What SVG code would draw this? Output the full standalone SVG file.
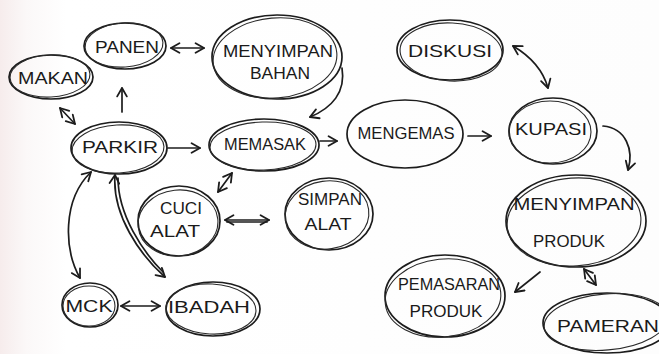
<svg xmlns="http://www.w3.org/2000/svg" width="659" height="354" viewBox="0 0 659 354">
  <style>
    .ring { fill: none; stroke: #1c1c1c; stroke-width: 1.7; }
    .ring2 { fill: none; stroke: #2a2a2a; stroke-width: 1.1; }
    .lbl { font-family: "Liberation Sans", "DejaVu Sans", sans-serif; font-size: 17px; fill: #1a1a1a; text-anchor: middle; }
    .link { fill: none; stroke: #1c1c1c; stroke-width: 1.7; stroke-linecap: round; }
    .one { marker-end: url(#tip); }
    .two { marker-start: url(#tip); marker-end: url(#tip); }
  </style>
  <defs>
    <marker id="tip" viewBox="0 0 10 10" refX="8" refY="5" markerWidth="12" markerHeight="12" markerUnits="userSpaceOnUse" orient="auto-start-reverse">
      <path d="M1,1 L8,5 L1,9" fill="none" stroke="#1c1c1c" stroke-width="1.5" stroke-linecap="round" stroke-linejoin="round"/>
    </marker>
    <linearGradient id="paper" x1="0" y1="0" x2="1" y2="0">
      <stop offset="0" stop-color="#f6ecec"/>
      <stop offset="0.04" stop-color="#fbf8f8"/>
      <stop offset="0.1" stop-color="#ffffff"/>
      <stop offset="1" stop-color="#fdfdfd"/>
    </linearGradient>
  </defs>

  <rect width="659" height="354" fill="url(#paper)"/>

  <!-- connectors -->
  <g id="connectors">
    <path class="link two" d="M171,48 L204,48"/>
    <path class="link one" d="M122,112 L122,88"/>
    <path class="link two" d="M60,108 L75,124"/>
    <path class="link one" d="M168,148 L200,148"/>
    <path class="link one" d="M342,68 C346,92 332,108 310,117"/>
    <path class="link one" d="M320,141 L337,141"/>
    <path class="link one" d="M468,136 L491,136"/>
    <path class="link two" d="M513,46 C530,56 543,70 548,88"/>
    <path class="link one" d="M603,126 C626,128 634,150 628,170"/>
    <path class="link one" d="M540,272 L515,292"/>
    <path class="link two" d="M584,269 L596,285"/>
    <path class="link two" d="M232,173 L218,192"/>
    <path class="link two" d="M225,220 L269,220"/>
    <path class="link" d="M227,222 L267,222"/>
    <path class="link two" d="M91,172 C62,200 64,250 80,278"/>
    <path class="link two" d="M115,175 C112,215 140,255 165,277"/>
    <path class="link" d="M118,178 C118,215 143,252 163,272"/>
    <path class="link two" d="M121,306 L160,306"/>
  </g>

  <!-- nodes -->
  <g id="panen">
    <ellipse class="ring" cx="125" cy="46" rx="41" ry="23"/>
    <ellipse class="ring2" cx="124" cy="45" rx="39" ry="22" transform="rotate(-4 124 45)"/>
    <text class="lbl" x="127" y="53" textLength="64" lengthAdjust="spacingAndGlyphs">PANEN</text>
  </g>
  <g id="menyimpan-bahan">
    <ellipse class="ring" cx="277" cy="57" rx="65" ry="42"/>
    <ellipse class="ring2" cx="275" cy="58" rx="62" ry="40" transform="rotate(-5 275 58)"/>
    <text class="lbl" x="278" y="57" textLength="110" lengthAdjust="spacingAndGlyphs">MENYIMPAN</text>
    <text class="lbl" x="280" y="79" textLength="60" lengthAdjust="spacingAndGlyphs">BAHAN</text>
  </g>
  <g id="makan">
    <ellipse class="ring" cx="51" cy="77" rx="42" ry="22"/>
    <ellipse class="ring2" cx="50" cy="76" rx="40" ry="21" transform="rotate(-3 50 76)"/>
    <text class="lbl" x="53" y="84" textLength="70" lengthAdjust="spacingAndGlyphs">MAKAN</text>
  </g>
  <g id="parkir">
    <ellipse class="ring" cx="119" cy="148" rx="48" ry="26"/>
    <ellipse class="ring2" cx="118" cy="149" rx="46" ry="24" transform="rotate(-3 118 149)"/>
    <text class="lbl" x="120" y="153" textLength="76" lengthAdjust="spacingAndGlyphs">PARKIR</text>
  </g>
  <g id="memasak">
    <ellipse class="ring" cx="264" cy="145" rx="55" ry="26"/>
    <ellipse class="ring2" cx="263" cy="146" rx="53" ry="24" transform="rotate(-2 263 146)"/>
    <text class="lbl" x="265" y="150" textLength="82" lengthAdjust="spacingAndGlyphs">MEMASAK</text>
  </g>
  <g id="mengemas">
    <ellipse class="ring" cx="405" cy="134" rx="58" ry="34"/>
    <text class="lbl" x="406" y="139" textLength="97" lengthAdjust="spacingAndGlyphs">MENGEMAS</text>
  </g>
  <g id="kupasi">
    <ellipse class="ring" cx="553" cy="131" rx="44" ry="33"/>
    <ellipse class="ring2" cx="550" cy="132" rx="41" ry="31"/>
    <text class="lbl" x="551" y="135" textLength="72" lengthAdjust="spacingAndGlyphs">KUPASI</text>
  </g>
  <g id="diskusi">
    <ellipse class="ring" cx="450" cy="50" rx="53" ry="30"/>
    <ellipse class="ring2" cx="451" cy="52" rx="51" ry="29" transform="rotate(3 451 52)"/>
    <text class="lbl" x="450" y="57" textLength="84" lengthAdjust="spacingAndGlyphs">DISKUSI</text>
  </g>
  <g id="cuci-alat">
    <ellipse class="ring" cx="179" cy="221" rx="41" ry="35"/>
    <ellipse class="ring2" cx="178" cy="223" rx="40" ry="33" transform="rotate(-6 178 223)"/>
    <text class="lbl" x="181" y="214" textLength="42" lengthAdjust="spacingAndGlyphs">CUCI</text>
    <text class="lbl" x="175" y="237" textLength="50" lengthAdjust="spacingAndGlyphs">ALAT</text>
  </g>
  <g id="simpan-alat">
    <ellipse class="ring" cx="329" cy="214" rx="44" ry="36"/>
    <ellipse class="ring2" cx="327" cy="215" rx="42" ry="34" transform="rotate(-8 327 215)"/>
    <text class="lbl" x="330" y="205" textLength="64" lengthAdjust="spacingAndGlyphs">SIMPAN</text>
    <text class="lbl" x="328" y="230" textLength="47" lengthAdjust="spacingAndGlyphs">ALAT</text>
  </g>
  <g id="mck">
    <ellipse class="ring" cx="90" cy="305" rx="28" ry="22"/>
    <ellipse class="ring2" cx="89" cy="306" rx="26" ry="20"/>
    <text class="lbl" x="89" y="312" textLength="47" lengthAdjust="spacingAndGlyphs">MCK</text>
  </g>
  <g id="ibadah">
    <ellipse class="ring" cx="213" cy="309" rx="47" ry="27"/>
    <ellipse class="ring2" cx="211" cy="309" rx="45" ry="25" transform="rotate(3 211 309)"/>
    <text class="lbl" x="209" y="313" textLength="82" lengthAdjust="spacingAndGlyphs">IBADAH</text>
  </g>
  <g id="menyimpan-produk">
    <ellipse class="ring" cx="576" cy="221" rx="70" ry="46"/>
    <ellipse class="ring2" cx="574" cy="222" rx="67" ry="44" transform="rotate(-4 574 222)"/>
    <text class="lbl" x="574" y="210" textLength="121" lengthAdjust="spacingAndGlyphs">MENYIMPAN</text>
    <text class="lbl" x="569" y="247" textLength="72" lengthAdjust="spacingAndGlyphs">PRODUK</text>
  </g>
  <g id="pemasaran-produk">
    <ellipse class="ring" cx="445" cy="296" rx="60" ry="41"/>
    <ellipse class="ring2" cx="443" cy="298" rx="58" ry="39" transform="rotate(-6 443 298)"/>
    <text class="lbl" x="449" y="290" textLength="102" lengthAdjust="spacingAndGlyphs">PEMASARAN</text>
    <text class="lbl" x="446" y="317" textLength="73" lengthAdjust="spacingAndGlyphs">PRODUK</text>
  </g>
  <g id="pameran">
    <ellipse class="ring" cx="607" cy="323" rx="64" ry="30"/>
    <ellipse class="ring2" cx="606" cy="322" rx="62" ry="28" transform="rotate(-5 606 322)"/>
    <text class="lbl" x="608" y="332" textLength="102" lengthAdjust="spacingAndGlyphs">PAMERAN</text>
  </g>
</svg>
